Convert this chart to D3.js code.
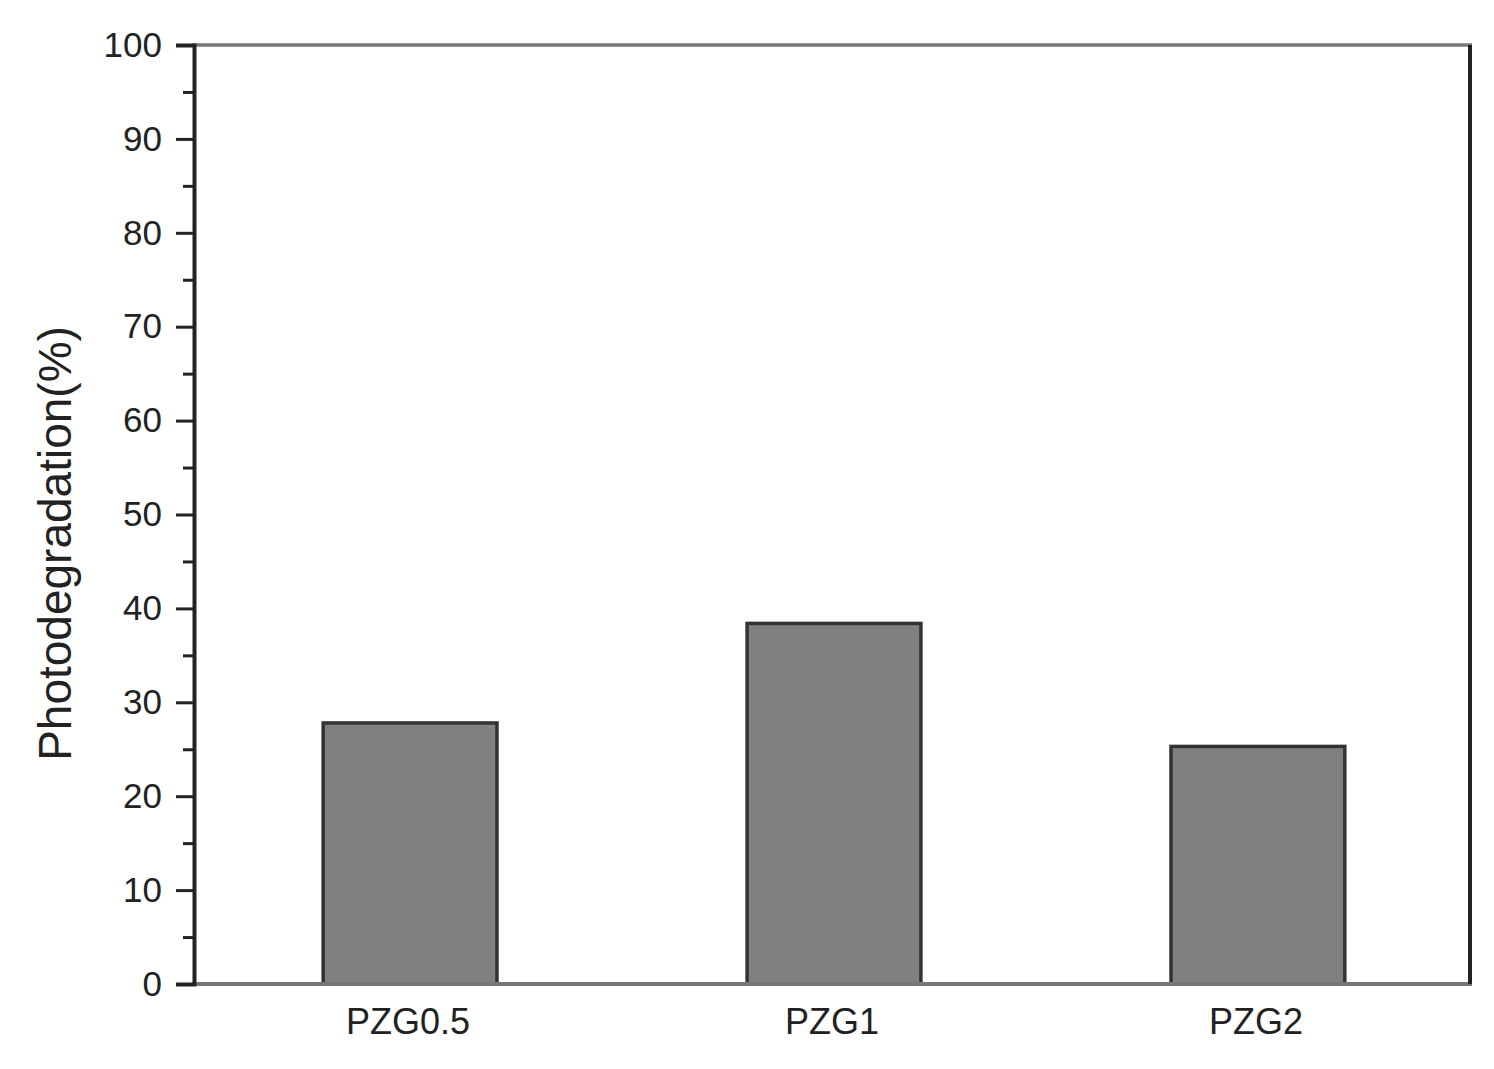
<!DOCTYPE html>
<html><head><meta charset="utf-8">
<script src="https://cdn.jsdelivr.net/npm/d3@7"></script>
<style>body{margin:0;background:#fff;} svg{display:block;}</style>
</head><body>
<script>
const categories = ["PZG0.5", "PZG1", "PZG2"];
const values = [27.8, 38.4, 25.3];
const majorTicks = [0, 10, 20, 30, 40, 50, 60, 70, 80, 90, 100];
const minorTicks = [5, 15, 25, 35, 45, 55, 65, 75, 85, 95];
const yTitle = "Photodegradation(%)";

const W = 1494, H = 1069;
const m = {left: 194, right: 24, top: 45, bottom: 85};
const svg = d3.select("body").append("svg").attr("width", W).attr("height", H);
const x = d3.scaleBand().domain(categories).range([m.left, W - m.right]).paddingInner(0.59).paddingOuter(0.3);
const y = d3.scaleLinear().domain([0, 100]).range([H - m.bottom, m.top]);
const font = "Arial, 'Liberation Sans', sans-serif";

// bars
svg.append("g").selectAll("rect").data(values).join("rect")
  .attr("x", (d, i) => x(categories[i]) + 2)
  .attr("y", d => y(d))
  .attr("width", x.bandwidth())
  .attr("height", d => y(0) - y(d))
  .attr("fill", "#808080").attr("stroke", "#333").attr("stroke-width", 3.5);

// frame
const x0 = m.left, x1 = W - m.right, yb = y(0), yt = y(100);
svg.append("line").attr("x1", x0 - 2).attr("x2", x1 + 2).attr("y1", yt).attr("y2", yt).attr("stroke", "#777").attr("stroke-width", 3.5);
svg.append("line").attr("x1", x0 - 2).attr("x2", x1 + 2).attr("y1", yb).attr("y2", yb).attr("stroke", "#777").attr("stroke-width", 4);
svg.append("line").attr("x1", x1).attr("x2", x1).attr("y1", yt).attr("y2", yb).attr("stroke", "#222").attr("stroke-width", 4);

// y axis
const yAxis = d3.axisLeft(y).tickValues(majorTicks).tickSize(18).tickPadding(14).tickFormat(d3.format("d"));
const ga = svg.append("g").attr("transform", `translate(${x0},0)`).call(yAxis);
ga.select(".domain").attr("stroke", "#222").attr("stroke-width", 4);
ga.selectAll(".tick line").attr("stroke", "#222").attr("stroke-width", 3);
ga.selectAll(".tick text").attr("font-family", font).attr("font-size", 35).attr("fill", "#222");
const gm = svg.append("g").attr("transform", `translate(${x0},0)`).call(d3.axisLeft(y).tickValues(minorTicks).tickSize(11).tickFormat(""));
gm.select(".domain").remove();
gm.selectAll(".tick line").attr("stroke", "#222").attr("stroke-width", 3);

// x axis labels
const gx = svg.append("g").attr("transform", `translate(0,${yb})`).call(d3.axisBottom(x).tickSize(0).tickPadding(24));
gx.select(".domain").remove();
gx.selectAll(".tick text").attr("font-family", font).attr("font-size", 36).attr("fill", "#222");

// y title
svg.append("text").attr("transform", `translate(71,${(yt + yb) / 2 + 29}) rotate(-90)`)
  .attr("text-anchor", "middle").attr("font-family", font).attr("font-size", 46).attr("fill", "#222").text(yTitle);
</script>
</body></html>
